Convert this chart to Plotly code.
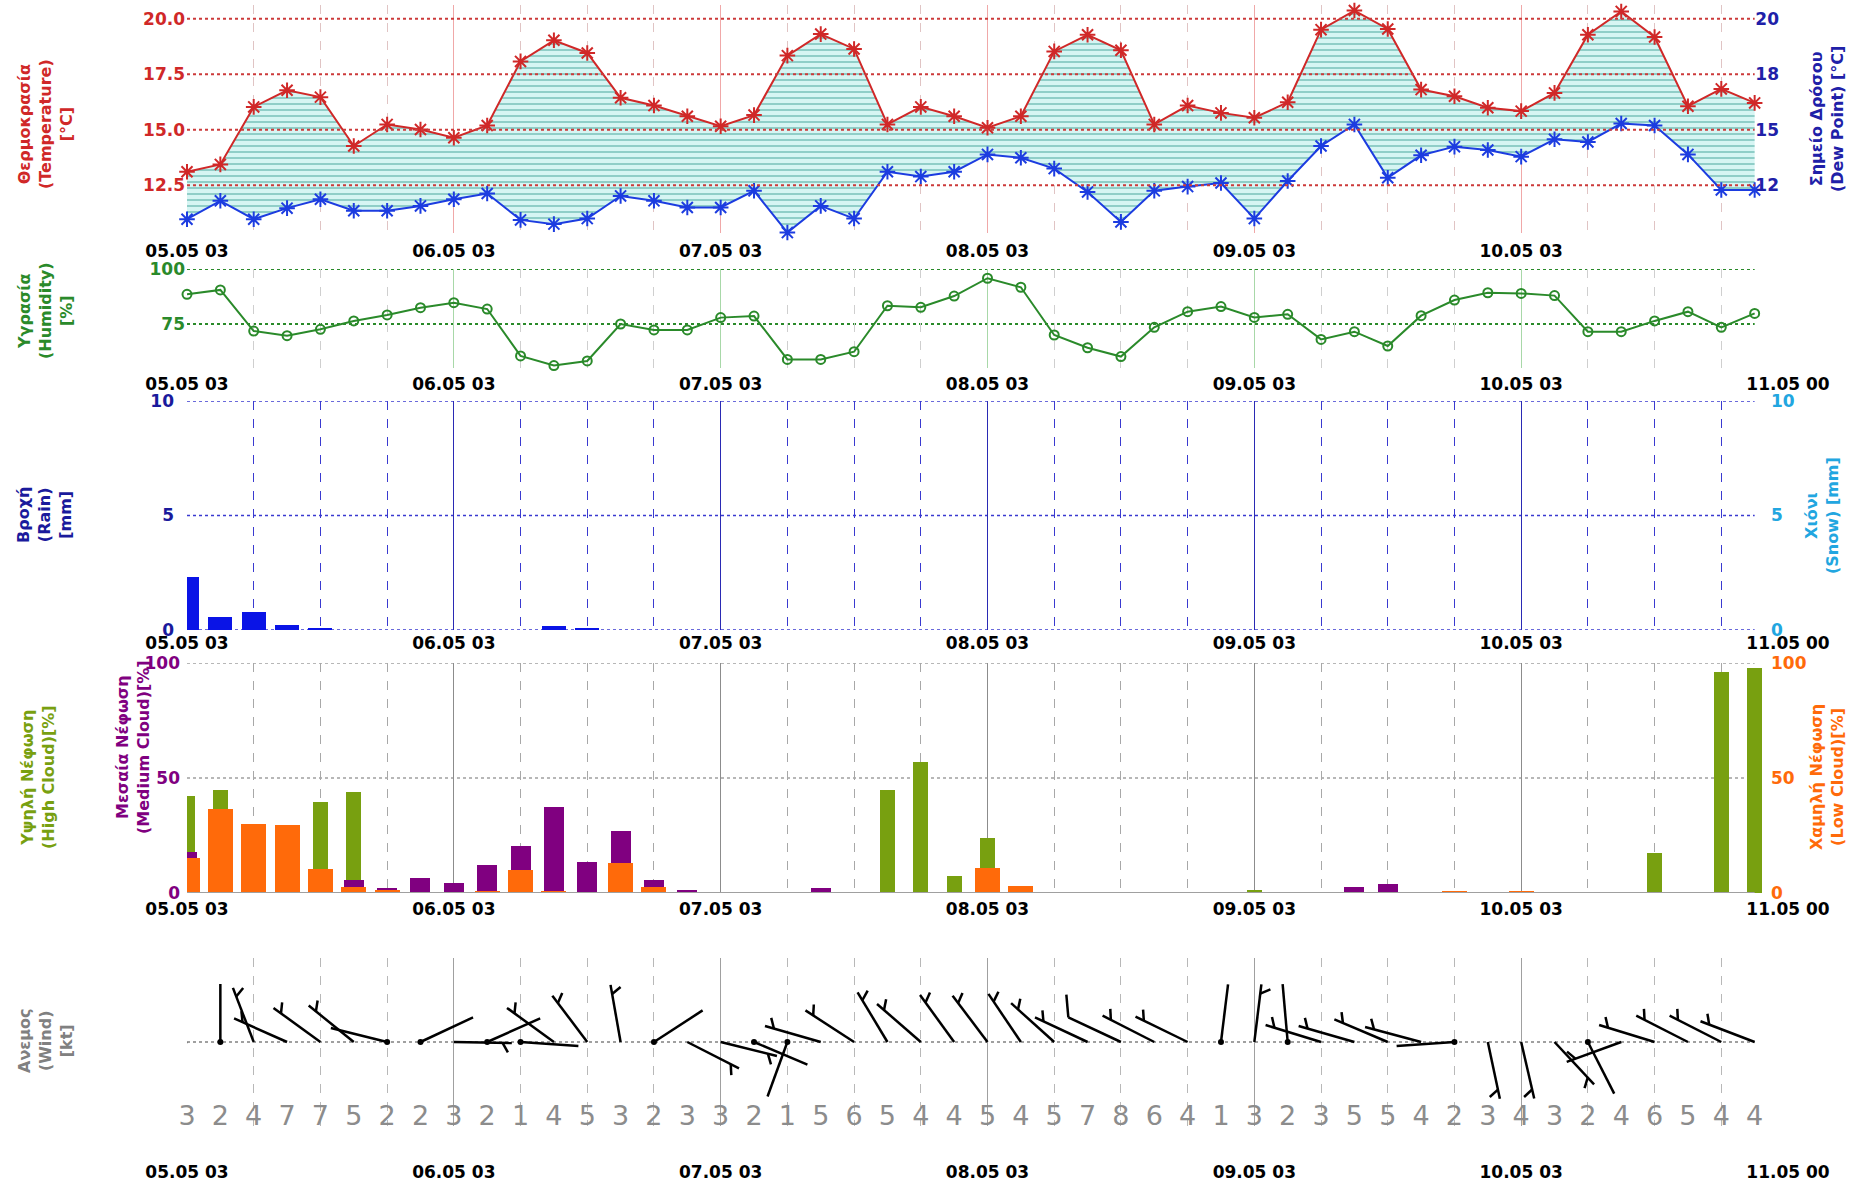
import math
import plotly.graph_objects as go

# ---------------- data ----------------
N = 48
idx = list(range(N))
tick_pos = [0, 8, 16, 24, 32, 40, 48]
tick_txt = ["05.05 03", "06.05 03", "07.05 03", "08.05 03", "09.05 03", "10.05 03", "11.05 00"]

temperature = [13.11, 13.44, 16.03, 16.78, 16.47, 14.27, 15.24, 15.01, 14.64, 15.19,
               18.08, 19.03, 18.46, 16.44, 16.09, 15.61, 15.16, 15.66, 18.34, 19.31,
               18.64, 15.24, 16.03, 15.61, 15.09, 15.61, 18.53, 19.28, 18.58, 15.24,
               16.09, 15.76, 15.54, 16.24, 19.51, 20.37, 19.54, 16.81, 16.51, 15.99,
               15.84, 16.66, 19.28, 20.33, 19.18, 16.06, 16.84, 16.21]
dew_point = [10.97, 11.80, 10.97, 11.47, 11.87, 11.35, 11.35, 11.57, 11.87, 12.13,
             10.94, 10.75, 11.00, 12.02, 11.80, 11.50, 11.50, 12.25, 10.37, 11.57,
             11.00, 13.11, 12.89, 13.11, 13.89, 13.74, 13.25, 12.20, 10.85, 12.25,
             12.44, 12.60, 11.00, 12.69, 14.27, 15.24, 12.84, 13.85, 14.24, 14.09,
             13.79, 14.57, 14.45, 15.28, 15.19, 13.89, 12.29, 12.29]
humidity = [88.5, 90.5, 71.8, 69.7, 72.6, 76.4, 79.1, 82.4, 84.7, 81.8,
            60.5, 56.1, 58.2, 75.0, 72.3, 72.3, 77.9, 78.6, 58.9, 58.9,
            62.4, 83.3, 82.6, 87.7, 95.8, 91.7, 70.0, 64.2, 60.2, 73.5,
            80.6, 82.9, 78.0, 79.4, 68.0, 71.5, 65.0, 78.8, 85.9, 89.2,
            88.9, 87.9, 71.5, 71.5, 76.4, 80.6, 73.5, 79.8]
rain = [2.33, 0.58, 0.77, 0.22, 0.08, 0, 0, 0, 0, 0,
        0, 0.17, 0.08, 0, 0, 0, 0, 0, 0, 0,
        0, 0, 0, 0, 0, 0, 0, 0, 0, 0,
        0, 0, 0, 0, 0, 0, 0, 0, 0, 0,
        0, 0, 0, 0, 0, 0, 0, 0]
high_cloud = [42, 45, 0, 0, 39.4, 43.8, 0, 0, 0, 0,
              0, 0, 0, 0, 0, 0, 0, 0, 0, 0,
              0, 45, 56.8, 7.2, 23.9, 0, 0, 0, 0, 0,
              0, 0, 1.2, 0, 0, 0, 0, 0, 0, 0,
              0, 0, 0, 0, 17.4, 0, 96, 97.8]
medium_cloud = [18, 0, 0, 0, 0, 5.5, 2.2, 6.5, 4.3, 12.3,
                20.3, 37.2, 13.3, 26.8, 5.8, 1.4, 0, 0, 0, 2.2,
                0, 0, 0, 0, 0, 0, 0, 0, 0, 0,
                0, 0, 0, 0, 0, 2.6, 3.9, 0, 0, 0,
                0, 0, 0, 0, 0, 0, 0, 0]
low_cloud = [15.2, 36.5, 30, 29.7, 10.4, 2.6, 1.5, 0, 0, 1,
             10, 1, 0, 13, 2.6, 0, 0, 0, 0, 0,
             0, 0, 0, 0, 10.9, 2.9, 0, 0, 0, 0,
             0, 0, 0, 0, 0, 0, 0, 0, 1, 0,
             1, 0, 0, 0, 0, 0, 0, 0]
wind_speed = [3, 2, 4, 7, 7, 5, 2, 2, 3, 2, 1, 4, 5, 3, 2, 3, 3, 2, 1, 5, 6, 5, 4,
              4, 5, 4, 5, 7, 8, 6, 4, 1, 3, 2, 3, 5, 5, 4, 2, 3, 4, 3, 2, 4, 6, 5, 4, 4]
wind_dir = [247, 0, 339, 294, 306, 309, 284, 65, 91, 66, 94, 306, 323, 350, 57, 117,
            104, 113, 200, 286, 303, 329, 311, 324, 323, 326, 312, 295, 295, 297, 296, 7,
            7, 355, 287, 286, 293, 285, 266, 168, 167, 137, 153, 250, 287, 297, 297, 291]

# ---------------- layout geometry (px) ----------------
W, H = 1859, 1183
X0, X1 = 187, 1788
P1 = (5, 233)
P2 = (269, 368)
P3 = (401, 630)
P4 = (663, 893)
P5 = (958, 1126)


def dom(p):
    return [1 - p[1] / H, 1 - p[0] / H]


FONT = "DejaVu Sans"
RED = "#d02828"
BLUE = "#1c3ce0"
NAVY = "#2020a8"
GREEN = "#2a8a2a"
RAINB = "#0a14e6"
SNOW = "#22a6e0"
HIGH = "#78a010"
MED = "#800080"
LOW = "#ff6a0a"
GREY = "#808080"

fig = go.Figure()

# ---------- panel 1: temperature / dew point ----------
fig.add_trace(go.Scatter(x=idx, y=dew_point, mode="lines", line=dict(width=0, color=BLUE),
                         xaxis="x", yaxis="y", hoverinfo="skip", showlegend=False))
fig.add_trace(go.Scatter(x=idx, y=temperature, mode="lines", line=dict(width=0, color=RED),
                         fill="tonexty",
                         fillpattern=dict(shape="-", bgcolor="#d6f5f3", fgcolor="#3c9e94",
                                          size=6, solidity=0.3),
                         xaxis="x", yaxis="y", hoverinfo="skip", showlegend=False))
fig.add_trace(go.Scatter(x=idx, y=temperature, mode="lines+markers",
                         line=dict(color=RED, width=2), cliponaxis=False,
                         marker=dict(symbol="asterisk-open", size=13, color=RED,
                                     line=dict(color=RED, width=2)),
                         xaxis="x", yaxis="y", name="Temperature", showlegend=False))
fig.add_trace(go.Scatter(x=idx, y=dew_point, mode="lines+markers",
                         line=dict(color=BLUE, width=2), cliponaxis=False,
                         marker=dict(symbol="asterisk-open", size=13, color=BLUE,
                                     line=dict(color=BLUE, width=2)),
                         xaxis="x", yaxis="y6", name="Dew Point", showlegend=False))

# ---------- panel 2: humidity ----------
fig.add_trace(go.Scatter(x=idx, y=humidity, mode="lines+markers",
                         line=dict(color=GREEN, width=2), cliponaxis=False,
                         marker=dict(symbol="circle-open", size=9, color=GREEN,
                                     line=dict(color=GREEN, width=2)),
                         xaxis="x2", yaxis="y2", name="Humidity", showlegend=False))

# ---------- panel 3: rain / snow ----------
fig.add_trace(go.Bar(x=idx, y=rain, width=0.72, marker=dict(color=RAINB, line=dict(width=0)),
                     cliponaxis=False,
                     xaxis="x3", yaxis="y3", name="Rain", showlegend=False))
fig.add_trace(go.Scatter(x=[0], y=[0], mode="markers", marker=dict(opacity=0),
                         xaxis="x3", yaxis="y7", hoverinfo="skip", showlegend=False))

# ---------- panel 4: clouds ----------
fig.add_trace(go.Bar(x=idx, y=high_cloud, width=0.45, marker=dict(color=HIGH, line=dict(width=0)),
                     cliponaxis=False,
                     xaxis="x4", yaxis="y4", name="High", showlegend=False))
fig.add_trace(go.Bar(x=idx, y=medium_cloud, width=0.6, marker=dict(color=MED, line=dict(width=0)),
                     cliponaxis=False,
                     xaxis="x4", yaxis="y4", name="Medium", showlegend=False))
fig.add_trace(go.Bar(x=idx, y=low_cloud, width=0.75, marker=dict(color=LOW, line=dict(width=0)),
                     cliponaxis=False,
                     xaxis="x4", yaxis="y8", name="Low", showlegend=False))

# ---------- panel 5: wind barbs ----------
PXX = (X1 - X0) / N
PXY = (P5[1] - P5[0]) / 2.0
L = 58.0
sx, sy, tx, ty, dots = [], [], [], [], []
for i, (d, s) in enumerate(zip(wind_dir, wind_speed)):
    r = math.radians(d)
    ux, uy = math.sin(r), math.cos(r)
    sx += [i, i + L * ux / PXX, None]
    sy += [0, L * uy / PXY, None]
    if s <= 2:
        dots.append(i)
    else:
        vx = ux * 0.5 + uy * 0.866
        vy = -ux * 0.866 + uy * 0.5
        if s >= 8:
            start, tl = 1.0, 23.0
        else:
            start, tl = 0.84, 11.0
        bx = i + start * L * ux / PXX
        by = start * L * uy / PXY
        tx += [bx, bx + tl * vx / PXX, None]
        ty += [by, by + tl * vy / PXY, None]
fig.add_trace(go.Scatter(x=sx, y=sy, mode="lines", line=dict(color="black", width=2.5),
                         cliponaxis=False,
                         xaxis="x5", yaxis="y5", hoverinfo="skip", showlegend=False))
fig.add_trace(go.Scatter(x=tx, y=ty, mode="lines", line=dict(color="black", width=2.5),
                         cliponaxis=False,
                         xaxis="x5", yaxis="y5", hoverinfo="skip", showlegend=False))
fig.add_trace(go.Scatter(x=dots, y=[0] * len(dots), mode="markers",
                         marker=dict(color="black", size=6), cliponaxis=False,
                         xaxis="x5", yaxis="y5", hoverinfo="skip", showlegend=False))
fig.add_trace(go.Scatter(x=idx, y=[-0.905] * N, mode="text",
                         text=[str(v) for v in wind_speed], cliponaxis=False,
                         textfont=dict(family=FONT, size=27, color="#8c8c8c"),
                         xaxis="x5", yaxis="y5", hoverinfo="skip", showlegend=False))


# ---------------- axes ----------------
def xax(anchor, major, minor, standoff=4):
    return dict(domain=[X0 / W, X1 / W], range=[0, N], anchor=anchor, automargin=False,
                tickmode="array", tickvals=tick_pos, ticktext=tick_txt,
                ticks="", showline=False, zeroline=False,
                tickfont=dict(family=FONT, size=17, color="black", weight="bold"),
                ticklabelstandoff=standoff,
                showgrid=True, gridcolor=major, gridwidth=1,
                minor=dict(tickmode="linear", tick0=0, dtick=2, showgrid=True,
                           gridcolor=minor, griddash="dash", gridwidth=1, ticks=""))


def yax(p, rng, vals, txt, color, **kw):
    d = dict(domain=dom(p), range=rng, tickmode="array", tickvals=vals, ticktext=txt,
             ticks="", showline=False, zeroline=False, showgrid=False, automargin=False,
             tickfont=dict(family=FONT, size=17, color=color, weight="bold"))
    d.update(kw)
    return d


layout = dict(
    width=W, height=H, margin=dict(l=0, r=0, t=0, b=0, autoexpand=False),
    paper_bgcolor="white", plot_bgcolor="white", showlegend=False,
    barmode="overlay", bargap=0,
    xaxis=xax("y", "#f0a8a8", "#e0c4c4", 6),
    xaxis2=xax("y2", "#a8d8a8", "#cfcfcf", 4),
    xaxis3=xax("y3", "#2a2ab4", "#3a3ad0", 1),
    xaxis4=xax("y4", "#8c8c8c", "#a8a8a8", 4),
    xaxis5=xax("y5", "#a0a0a0", "#b8b8b8", 34),
    yaxis=yax(P1, [10.35, 20.62], [12.5, 15, 17.5, 20], ["12.5", "15.0", "17.5", "20.0"], RED,
              anchor="x", ticklabelstandoff=1),
    yaxis6=yax(P1, [10.35, 20.62], [12.5, 15, 17.5, 20], ["12", "15", "18", "20"], NAVY,
               anchor="x", overlaying="y", side="right", ticklabelposition="inside",
               ticklabelstandoff=6),
    yaxis2=yax(P2, [55, 100], [75, 100], ["75", "100"], GREEN, anchor="x2", ticklabelstandoff=1),
    yaxis3=yax(P3, [0, 10], [0, 5, 10], ["0", "5", "10"], "#1a1a9c", anchor="x3",
               ticklabelstandoff=12),
    yaxis7=yax(P3, [0, 10], [0, 5, 10], ["0", "5", "10"], SNOW, anchor="x3",
               overlaying="y3", side="right", ticklabelstandoff=-18),
    yaxis4=yax(P4, [0, 100], [0, 50, 100], ["0", "50", "100"], MED, anchor="x4",
               ticklabelstandoff=6),
    yaxis8=yax(P4, [0, 100], [0, 50, 100], ["0", "50", "100"], LOW, anchor="x4",
               overlaying="y4", side="right", ticklabelstandoff=-18),
    yaxis5=yax(P5, [-1, 1], [0], [""], GREY, anchor="x5", showticklabels=False),
)
fig.update_layout(**layout)

# horizontal gridlines (span the data points only)
hgrids = [("y", [12.5, 15, 17.5, 20], "#cc3a3a", "above", 2),
          ("y2", [75, 100], "#2a8a2a", "below", 2),
          ("y3", [0, 5, 10], "#3a3ad0", "below", 1.5),
          ("y4", [50, 100], "#a0a0a0", "below", 1.5),
          ("y5", [0], "#a0a0a0", "below", 2)]
xrefs = {"y": "x", "y2": "x2", "y3": "x3", "y4": "x4", "y5": "x5"}
for yref, vals, col, layer, wdt in hgrids:
    for v in vals:
        fig.add_shape(type="line", xref=xrefs[yref], yref=yref, x0=0, x1=N - 1, y0=v, y1=v,
                      line=dict(color=col, width=wdt, dash="dot"), layer=layer)
# cloud baseline
fig.add_shape(type="line", xref="x4", yref="y4", x0=0, x1=N - 1, y0=0, y1=0,
              line=dict(color="#a0a0a0", width=2), layer="above")


def title(text, px, py, color):
    fig.add_annotation(x=px / W, y=1 - py / H, xref="paper", yref="paper", text=text,
                       textangle=-90, showarrow=False, xanchor="center", yanchor="middle",
                       align="center",
                       font=dict(family=FONT, size=16, color=color, weight="bold"))


title("Θερμοκρασία<br>(Temperature)<br>[°C]", 45, 124, RED)
title("Σημείο Δρόσου<br>(Dew Point) [°C]", 1827, 119, NAVY)
title("Υγρασία<br>(Humidity)<br>[%]", 45, 311, GREEN)
title("Βροχή<br>(Rain)<br>[mm]", 45, 515, "#1a1a9c")
title("Χιόνι<br>(Snow) [mm]", 1822, 516, SNOW)
title("Υψηλή Νέφωση<br>(High Cloud)[%]", 38, 777, HIGH)
title("Μεσαία Νέφωση<br>(Medium Cloud)[%]", 133, 747, MED)
title("Χαμηλή Νέφωση<br>(Low Cloud)[%]", 1827, 777, LOW)
title("Ανεμος<br>(Wind)<br>[kt]", 45, 1041, GREY)

fig.write_html("out.html", config={"displayModeBar": False},
               post_script="document.body.style.margin='0px';"
                           "document.body.style.overflow='hidden';")
